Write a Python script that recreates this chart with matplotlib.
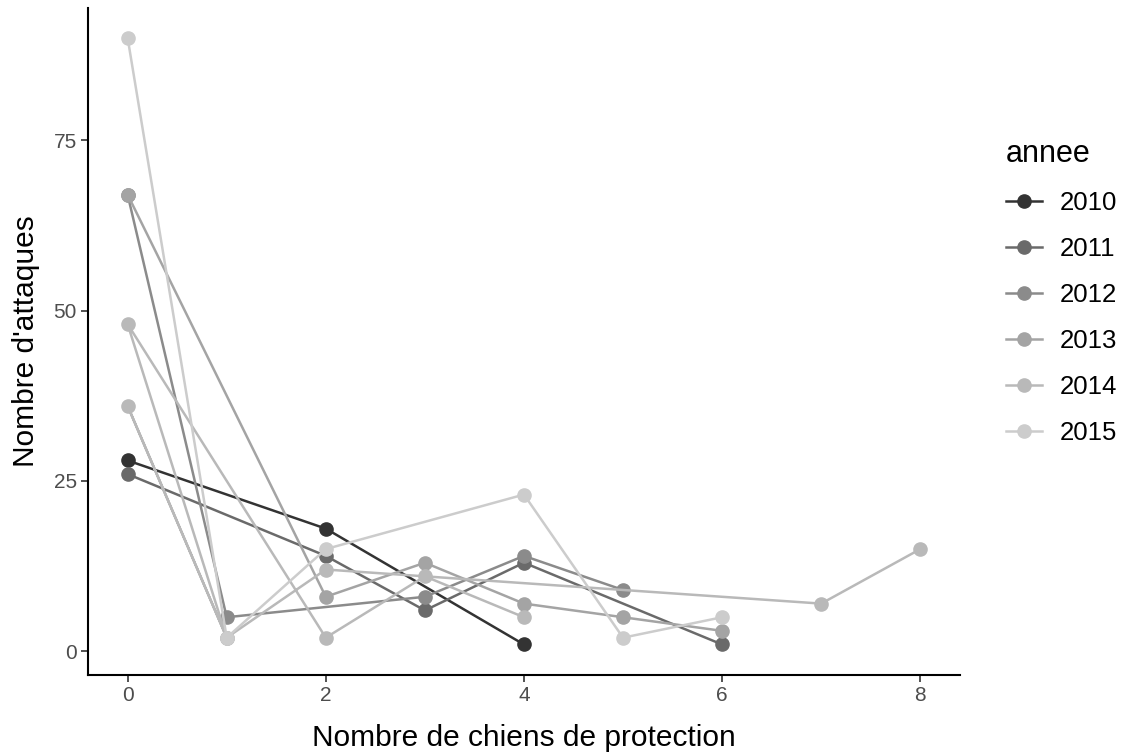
import numpy as np
import matplotlib.pyplot as plt
from matplotlib.lines import Line2D

plt.rcParams['font.family'] = ['Liberation Sans', 'DejaVu Sans']

# données (ordre du tracé)
annees = ['2010', '2011', '2012', '2013', '2014', '2015']
chiens = {
    '2010': [0, 2, 4],
    '2011': [0, 2, 3, 4, 6],
    '2012': [0, 1, 3, 4, 5],
    '2013': [0, 2, 3, 4, 5, 6],
    '2014': [4, 3, 2, 0, 1, 0, 1, 2, 7, 8],
    '2015': [0, 1, 2, 4, 5, 6],
}
attaques = {
    '2010': [28, 18, 1],
    '2011': [26, 14, 6, 13, 1],
    '2012': [67, 5, 8, 14, 9],
    '2013': [67, 8, 13, 7, 5, 3],
    '2014': [5, 11, 2, 48, 2, 36, 2, 12, 7, 15],
    '2015': [90, 2, 15, 23, 2, 5],
}

# gris façon scale_colour_grey (start 0.2, end 0.8)
g = np.linspace(0.2 ** 2.2, 0.8 ** 2.2, len(annees)) ** (1 / 2.2)
couleurs = [(v, v, v) for v in g]

fig = plt.figure(figsize=(11.28, 7.54), dpi=100)
ax = fig.add_axes([0.078, 0.105, 0.773, 0.885])

for an, c in zip(annees, couleurs):
    ax.plot(chiens[an], attaques[an], color=c, lw=1.8, marker='o', ms=9.5,
            solid_capstyle='round')

ax.set_xlim(-0.4, 8.4)
ax.set_ylim(-3.45, 94.45)
ax.set_xticks([0, 2, 4, 6, 8])
ax.set_yticks([0, 25, 50, 75])
for s in ['top', 'right']:
    ax.spines[s].set_visible(False)
for s in ['left', 'bottom']:
    ax.spines[s].set_linewidth(1.5)
ax.tick_params(axis='both', labelsize=15, labelcolor='#4d4d4d', color='#333333',
               length=5, width=1.2, pad=3)
ax.set_xlabel('Nombre de chiens de protection', fontsize=21.5, labelpad=14)
ax.set_ylabel("Nombre d'attaques", fontsize=21.5, labelpad=10)

poignees = [Line2D([0], [0], color=c, lw=1.8, marker='o', ms=9.5) for c in couleurs]
leg = fig.legend(poignees, annees, title='annee', loc='upper left',
                 bbox_to_anchor=(0.892, 0.815), frameon=False, fontsize=18.5,
                 title_fontsize=22, labelspacing=0.85, handlelength=1.4,
                 handletextpad=0.7, borderpad=0, borderaxespad=0)
leg._legend_box.align = 'left'

fig.savefig('out.png', dpi=100)
